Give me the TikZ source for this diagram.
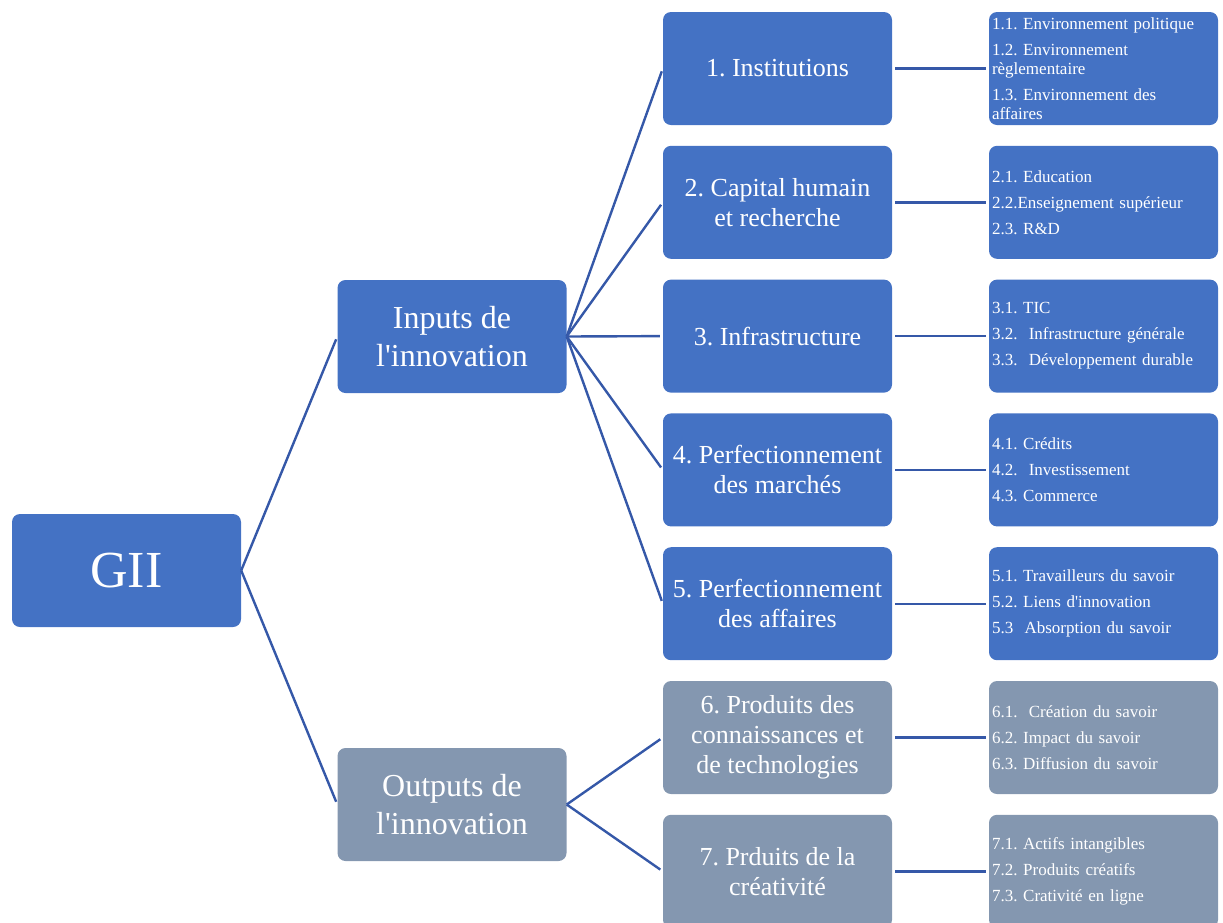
\documentclass[tikz,border=0pt]{standalone}
\usepackage{fontspec}
\setmainfont{Liberation Serif}
\usetikzlibrary{positioning}
\definecolor{boxblue}{HTML}{4472C4}
\definecolor{boxgrey}{HTML}{8497B0}
\definecolor{linkblue}{HTML}{3558A8}
\newcommand{\apos}{\textquotesingle}
\frenchspacing

\begin{document}
\begin{tikzpicture}[x=1pt, y=-1pt,
    box/.style={rectangle, rounded corners=8pt, fill=boxblue, text=white,
        minimum width=229pt, minimum height=113pt, align=center, inner sep=2pt},
    rootbox/.style={box, font=\fontsize{52}{56}\selectfont},
    pillar/.style={box, font=\fontsize{32}{38}\selectfont},
    topic/.style={box, font=\fontsize{26}{30}\selectfont},
    detail/.style={box, font=\fontsize{17}{19}\selectfont, align=left,
        text width=223pt, inner xsep=3pt},
    link/.style={draw=linkblue, line width=2.4pt}]
    \useasboundingbox (0,0) rectangle (1223,922);

    \node[rootbox] (gii) at (126.5,570.5) {GII};
    \node[pillar] (inputs) at (452,336.5) {Inputs de\\l\apos innovation};
    \node[pillar, fill=boxgrey] (outputs) at (452,804.5) {Outputs de\\l\apos innovation};

    \node[topic] (inst) at (777.5,68.5) {1. Institutions};
    \node[topic] (capital) at (777.5,202.3) {2. Capital humain\\et recherche};
    \node[topic] (infra) at (777.5,336.1) {3. Infrastructure};
    \node[topic] (marches) at (777.5,469.9) {4. Perfectionnement\\des marchés};
    \node[topic] (affaires) at (777.5,603.7) {5. Perfectionnement\\des affaires};
    \node[topic, fill=boxgrey] (connaiss) at (777.5,737.5) {6. Produits des\\connaissances et\\de technologies};
    \node[topic, fill=boxgrey] (creat) at (777.5,871.3) {7. Prduits de la\\créativité};

    \node[detail] (instsub) at (1103.5,68.5) {1.1. Environnement politique\\[7pt]1.2. Environnement\\règlementaire\\[7pt]1.3. Environnement des\\affaires};
    \node[detail] (capitalsub) at (1103.5,202.3) {2.1. Education\\[7pt]2.2.Enseignement supérieur\\[7pt]2.3. R\&D};
    \node[detail] (infrasub) at (1103.5,336.1) {3.1. TIC\\[7pt]3.2.~ Infrastructure générale\\[7pt]3.3.~ Développement durable};
    \node[detail] (marchessub) at (1103.5,469.9) {4.1. Crédits\\[7pt]4.2.~ Investissement\\[7pt]4.3. Commerce};
    \node[detail] (affairessub) at (1103.5,603.7) {5.1. Travailleurs du savoir\\[7pt]5.2. Liens d\apos innovation\\[7pt]5.3~ Absorption du savoir};
    \node[detail, fill=boxgrey] (connaisssub) at (1103.5,737.5) {6.1.~ Création du savoir\\[7pt]6.2. Impact du savoir\\[7pt]6.3. Diffusion du savoir};
    \node[detail, fill=boxgrey] (creatsub) at (1103.5,871.3) {7.1. Actifs intangibles\\[7pt]7.2. Produits créatifs\\[7pt]7.3. Crativité en ligne};

    \draw[link, shorten >=3pt] (gii.east) -- (inputs.west);
    \draw[link, shorten >=3pt] (gii.east) -- (outputs.west);
    \draw[link, shorten >=3pt] (inputs.east) -- (inst.west);
    \draw[link, shorten >=3pt] (inputs.east) -- (capital.west);
    \draw[link, shorten >=3pt] (inputs.east) -- (infra.west);
    \draw[link, shorten >=3pt] (inputs.east) -- (marches.west);
    \draw[link, shorten >=3pt] (inputs.east) -- (affaires.west);
    \draw[link, shorten >=3pt] (outputs.east) -- (connaiss.west);
    \draw[link, shorten >=3pt] (outputs.east) -- (creat.west);
    \draw[link, shorten <=3pt, shorten >=3pt] (inst) -- (instsub);
    \draw[link, shorten <=3pt, shorten >=3pt] (capital) -- (capitalsub);
    \draw[link, shorten <=3pt, shorten >=3pt] (infra) -- (infrasub);
    \draw[link, shorten <=3pt, shorten >=3pt] (marches) -- (marchessub);
    \draw[link, shorten <=3pt, shorten >=3pt] (affaires) -- (affairessub);
    \draw[link, shorten <=3pt, shorten >=3pt] (connaiss) -- (connaisssub);
    \draw[link, shorten <=3pt, shorten >=3pt] (creat) -- (creatsub);
\end{tikzpicture}
\end{document}
